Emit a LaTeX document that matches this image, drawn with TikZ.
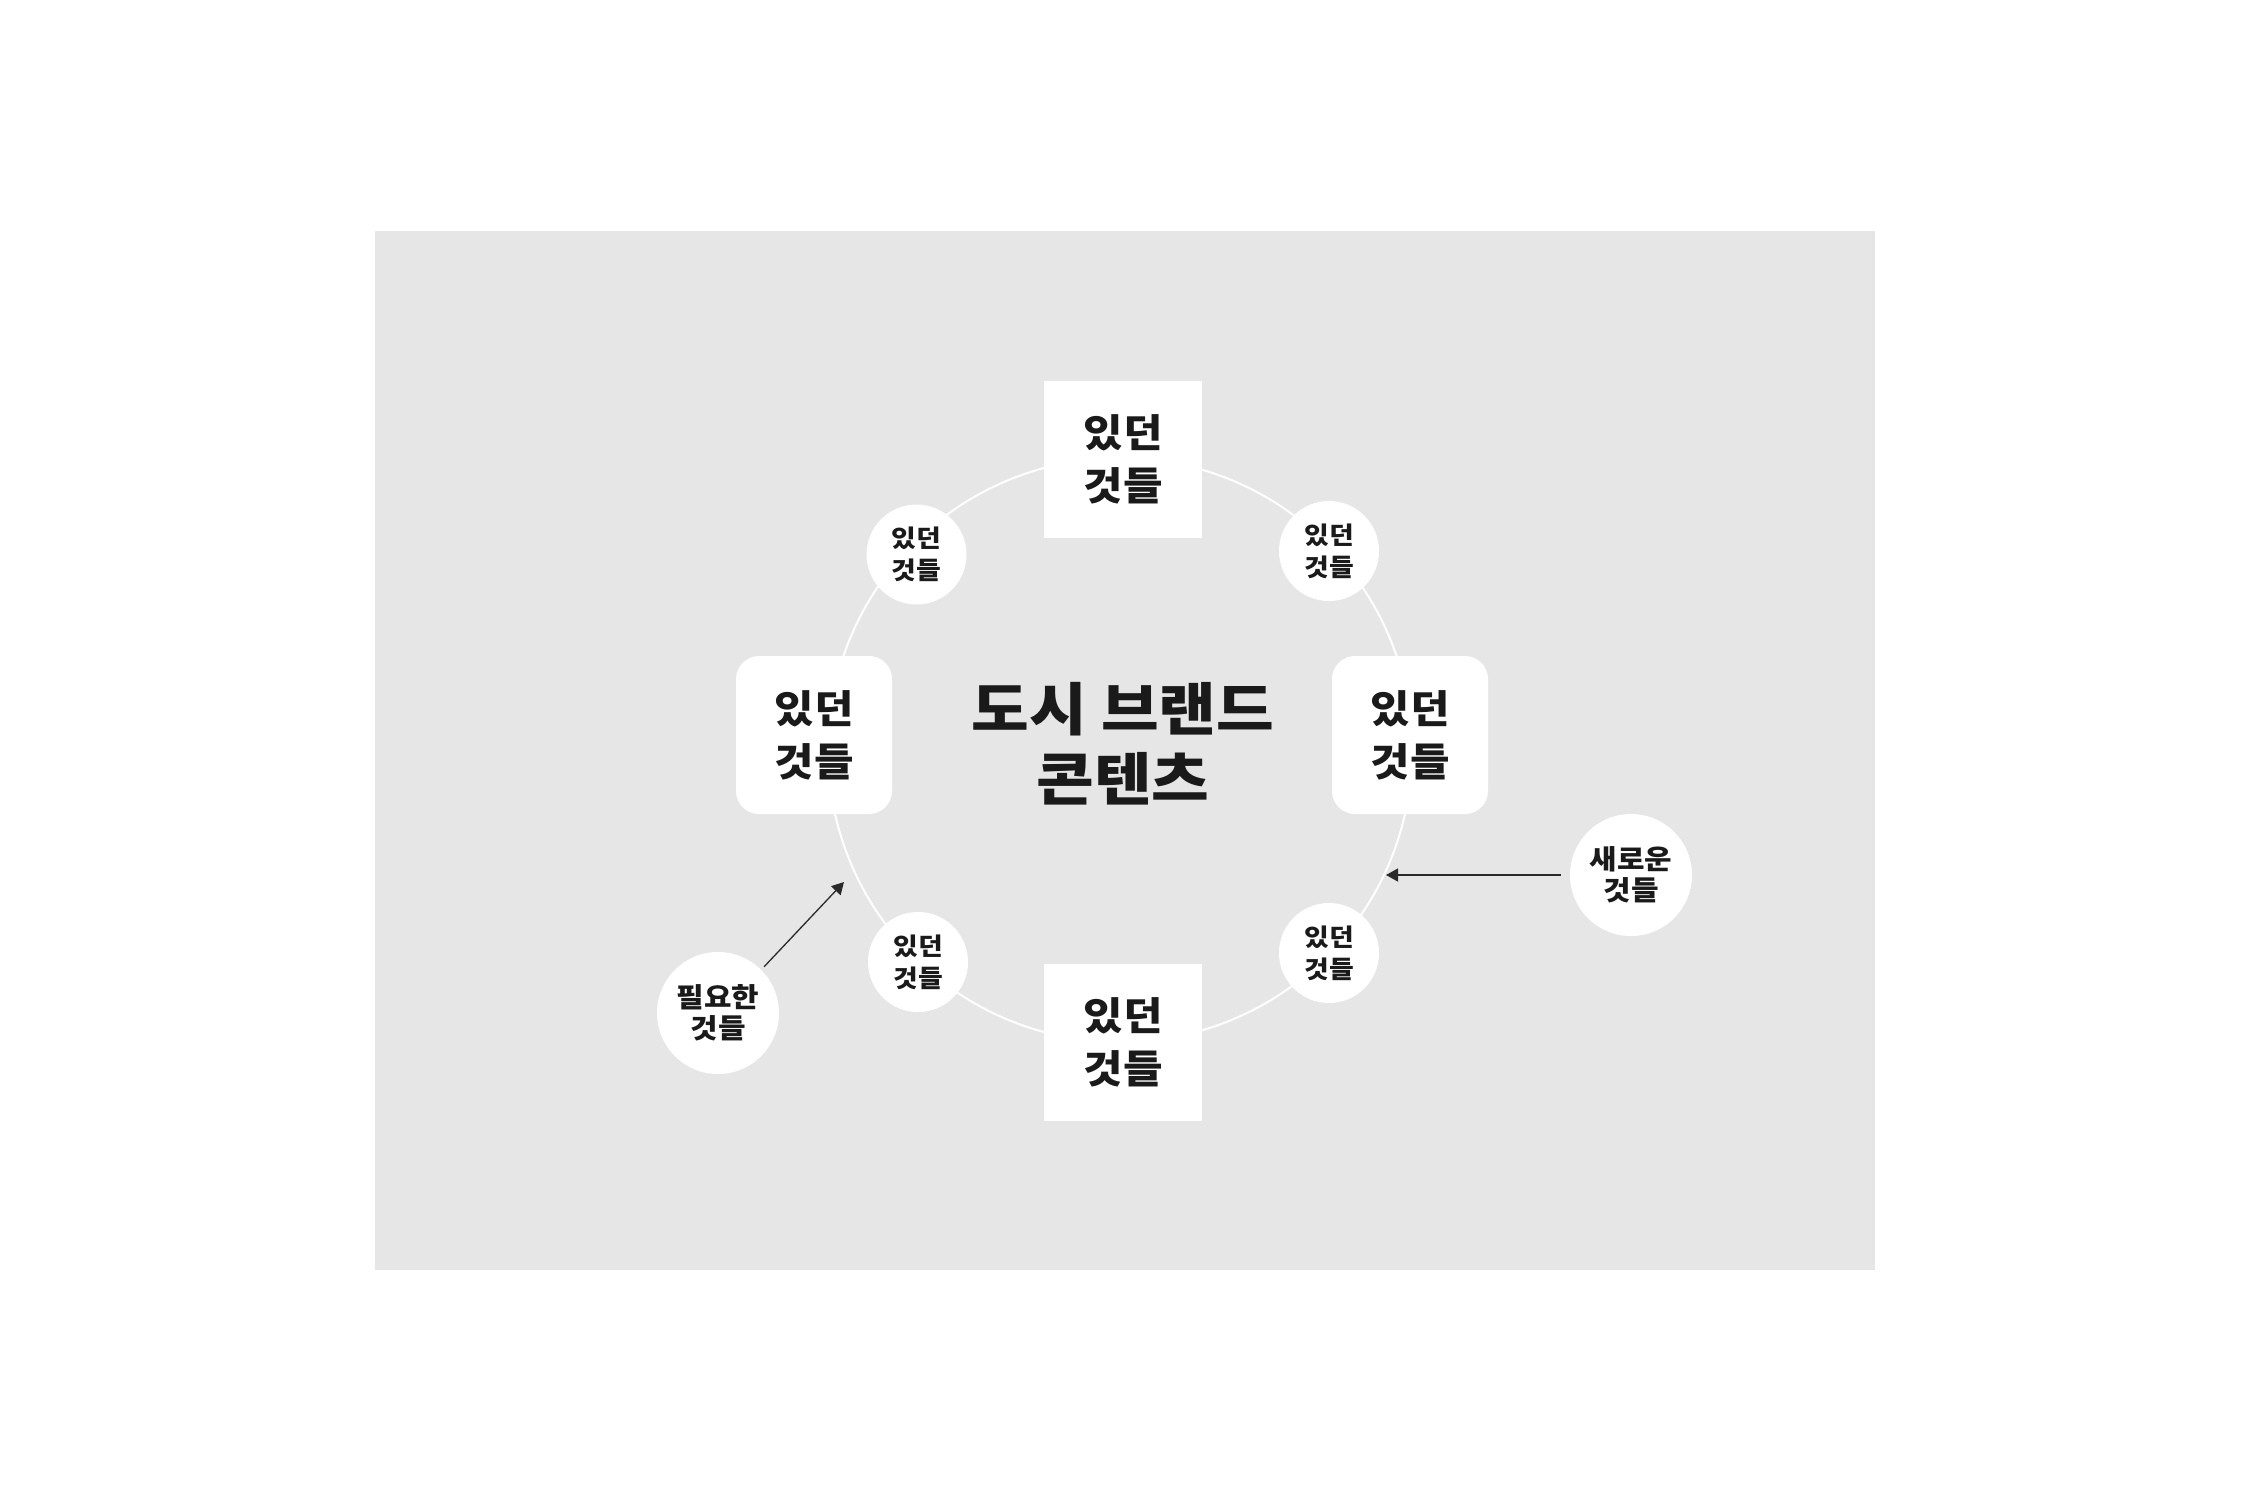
\documentclass[tikz,border=0pt]{standalone}
\usepackage{fontspec}
\newfontfamily\kr{Noto Sans CJK KR}[FakeStretch=1.1]
\usetikzlibrary{arrows.meta}
\definecolor{bggray}{HTML}{E6E6E6}
\definecolor{ink}{HTML}{1A1A1A}
\definecolor{arrowink}{HTML}{2A2A2A}
\tikzset{
  bigbox/.style={fill=white, draw=none, minimum width=79pt, minimum height=78.5pt, inner sep=0pt, align=center, text=ink,
    font={\kr\bfseries\fontsize{19.5}{26.5}\selectfont}},
  sidebox/.style={bigbox, rounded corners=11.5pt, minimum width=78pt, minimum height=79pt},
  smallcirc/.style={circle, fill=white, draw=none, minimum size=50pt, inner sep=0pt, align=center, text=ink,
    font={\kr\bfseries\fontsize{12.2}{16}\selectfont}},
  outercirc/.style={circle, fill=white, draw=none, minimum size=61pt, inner sep=0pt, align=center, text=ink,
    font={\kr\bfseries\fontsize{13.6}{15.5}\selectfont}},
  titletext/.style={align=center, text=ink, inner sep=0pt, font={\kr\bfseries\fontsize{28.5}{35}\selectfont}},
  ring/.style={draw=white, line width=1pt},
  feed/.style={draw=arrowink, line width=0.65pt, -{Triangle[length=6pt, width=6.5pt]}},
}
\begin{document}
\begin{tikzpicture}[x=0.5pt, y=-0.5pt]
\useasboundingbox (0,0) rectangle (2251,1501);
\fill[bggray] (375,231) rectangle (1875,1270);
% ring
\coordinate (ringc) at (1120,750);
\draw[ring] (ringc) circle[radius=146pt];
% main boxes
\node[bigbox] (top) at (1123,459.5) {있던\\것들};
\node[bigbox] (bottom) at (1123,1042.5) {있던\\것들};
\node[sidebox] (left) at (814,735) {있던\\것들};
\node[sidebox] (right) at (1410,735) {있던\\것들};
% small circles
\node[smallcirc] (tl) at (916.5,554.5) {있던\\것들};
\node[smallcirc] (tr) at (1329,551) {있던\\것들};
\node[smallcirc] (bl) at (918,962) {있던\\것들};
\node[smallcirc] (br) at (1329,953) {있던\\것들};
% title
\node[titletext] (title) at (1123,744) {도시 브랜드\\콘텐츠};
% outer circles
\node[outercirc] (need) at (718,1013) {필요한\\것들};
\node[outercirc] (new) at (1631,875) {새로운\\것들};
% arrows
\coordinate (needtip) at (844,882);
\coordinate (newtip) at (1386,875);
\draw[feed, shorten <=2pt] (need.45) -- (needtip);
\draw[feed, shorten <=4.5pt] (new.west) -- (newtip);
\end{tikzpicture}
\end{document}
